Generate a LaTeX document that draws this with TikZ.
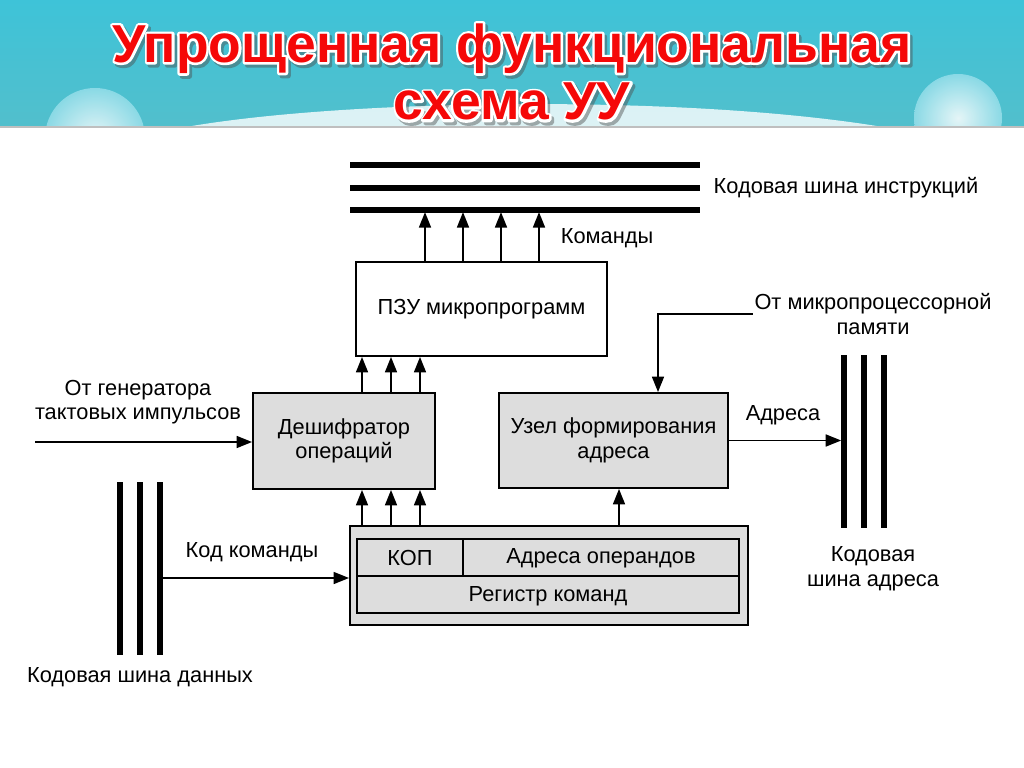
\documentclass[tikz,border=0pt]{standalone}
\usepackage{fontspec}
\setmainfont{Liberation Sans}
\usetikzlibrary{arrows.meta}
\usetikzlibrary{positioning}

\definecolor{sky}{HTML}{3EC3D8}
\definecolor{skylow}{HTML}{52BFCC}
\definecolor{ttlred}{HTML}{F50808}
% stroked letters for the rim and the shadow of the title
\newcommand\rimon[1]{\special{pdf:literal direct 1 Tr #1 w 1 j 1 J}}
\newcommand\rimoff{\special{pdf:literal direct 0 Tr}}

\tikzset{
  blok/.style={draw,line width=1.3pt,fill=gray!27,align=center,inner sep=0pt,font=\fontsize{15.5}{17.5}\selectfont},
  plain/.style={align=center,inner sep=1pt,font=\fontsize{15.5}{17.5}\selectfont},
  sig/.style={line width=1.3pt,-{Triangle[length=11pt,width=8.5pt]}},
  bus/.style={line width=3.6pt},
  ttl/.style={align=center,font=\fontsize{38}{41}\selectfont\bfseries}
}

\begin{document}
\begin{tikzpicture}[x=0.025cm,y=-0.025cm]
	\useasboundingbox (0,0) rectangle (1024,768);
	% background of the slide
	\shade[top color=sky,bottom color=skylow] (0,0) rectangle (1024,128);
	\begin{scope}
		\clip (0,0) rectangle (1024,127);
		\fill[white,opacity=.8] (170,130) .. controls (330,98) and (700,93) .. (900,130) -- cycle;
		\shade[inner color=white,outer color=sky!55!white,opacity=.85] (95,138) circle (50);
		\shade[inner color=white,outer color=sky!55!white,opacity=.85] (958,118) circle (44);
	\end{scope}
	\fill[white] (0,127) rectangle (1024,768);
	\draw[gray!50,line width=.8pt] (0,127)--(1024,127);
	% title
	\node[ttl,text=black!70,opacity=.45] (ttlsh) at (514.5,75){\rimon{3.5}Упрощенная функциональная\\\rimon{3.5}схема УУ\rimoff};
	\node[ttl,text=white] (ttlrim) at (512,72){\rimon{3.4}Упрощенная функциональная\\\rimon{3.4}схема УУ\rimoff};
	\node[ttl,text=ttlred] (ttl) at (512,72){Упрощенная функциональная\\схема УУ};
	% buses
	\foreach \y in {165,188,210} \draw[bus] (350,\y)--(700,\y);
	\coordinate (ibus) at (350,210);
	\foreach \x in {844,864,884} \draw[bus] (\x,355)--(\x,528);
	\coordinate (abus) at (844,442);
	\foreach \x in {120,140,160} \draw[bus] (\x,482)--(\x,655);
	\coordinate (dbus) at (160,578);
	\coordinate (clk) at (35,442);
	% blocks
	\node[blok,fill=white,minimum width=6.275cm,minimum height=2.35cm] (pzu) at (481.5,309){ПЗУ микропрограмм};
	\node[blok,minimum width=4.55cm,minimum height=2.4cm] (dec) at (344,441){Дешифратор\\операций};
	\node[blok,minimum width=5.725cm,minimum height=2.375cm] (adr) at (613.5,440.5){Узел формирования\\адреса};
	\node[blok,minimum width=9.95cm,minimum height=2.475cm] (reg) at (549,575.5){};
	\draw[line width=1.1pt] (357,539) rectangle (739,613);
	\draw[line width=1.1pt] (357,576)--(739,576) (463,539)--(463,576);
	\node[plain] (kop) at (410,558){КОП};
	\node[plain] (ops) at (601,558){Адреса операндов};
	\node[plain] (rk) at (548,596){Регистр команд};
	% labels
	\node[plain,anchor=west] (ibustxt) at (712,188){Кодовая шина инструкций};
	\node[plain] (cmd) at (607,238){Команды};
	\node[plain] (gen) at (138,402){От генератора\\тактовых импульсов};
	\node[plain] (mem) at (873,314){От микропроцессорной\\памяти};
	\node[plain] (adrtxt) at (783,415){Адреса};
	\node[plain] (kodtxt) at (252,552){Код команды};
	\node[plain] (abustxt) at (873,569){Кодовая\\шина адреса};
	\node[plain] (dbustxt) at (140,677){Кодовая шина данных};
	% connections
	\draw[sig] (clk)--(clk -| dec.west);
	\draw[sig] (dbus)--(dbus -| reg.west);
	\foreach \x in {362,391,420}{
		\draw[sig] (reg.north -| \x,0)--(dec.south -| \x,0);
		\draw[sig] (dec.north -| \x,0)--(pzu.south -| \x,0);
	}
	\draw[sig] (reg.north -| 619,0)--(adr.south -| 619,0);
	\foreach \x in {425,463,501,539} \draw[sig,shorten >=1.5pt] (pzu.north -| \x,0)--(ibus -| \x,0);
	\draw[sig] (mem.west) -| (adr.north -| 658,0);
	\draw[sig,shorten >=2pt] (adr.east)--(adr.east -| abus);
\end{tikzpicture}
\end{document}
